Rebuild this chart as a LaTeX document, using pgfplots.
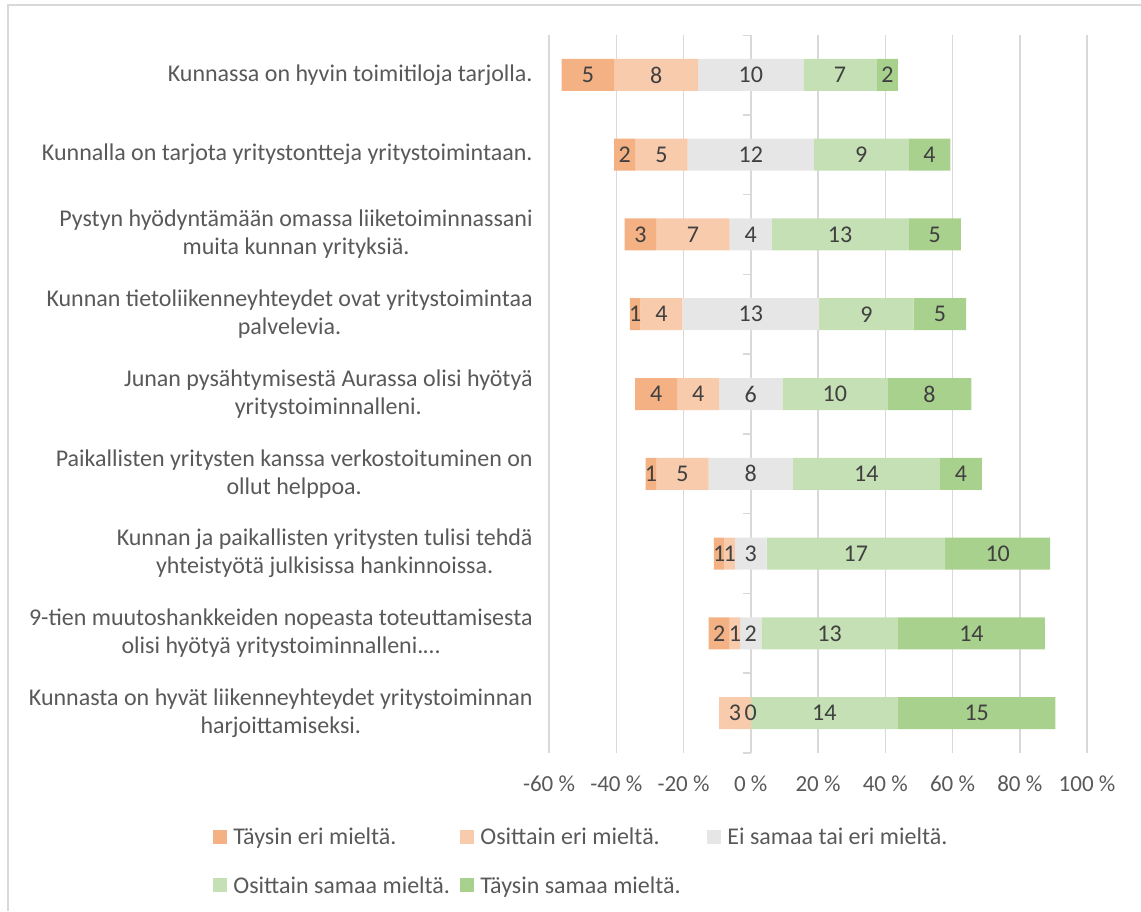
\documentclass[border=0pt]{standalone}
\usepackage{pgfplots}
\pgfplotsset{compat=1.18}
\usepackage{pgfplotstable}
\usepackage{fontspec}
\setmainfont{Carlito}
\definecolor{te}{HTML}{F4B183}
\definecolor{oe}{HTML}{F8CBAD}
\definecolor{nn}{HTML}{E7E6E6}
\definecolor{os}{HTML}{C5E0B4}
\definecolor{ts}{HTML}{A9D18E}
\definecolor{gridc}{HTML}{D9D9D9}
\definecolor{txt}{HTML}{595959}
\definecolor{lab}{HTML}{404040}

% percentages of 32 answers; off = invisible left offset measured from -60 %
\pgfplotstableread{
y off te oe n os ts
1 3.75 15.625 25 31.25 21.875 6.25
2 19.375 6.25 15.625 37.5 28.125 12.5
3 22.5 9.375 21.875 12.5 40.625 15.625
4 24.0625 3.125 12.5 40.625 28.125 15.625
5 25.625 12.5 12.5 18.75 31.25 25
6 28.75 3.125 15.625 25 43.75 12.5
7 49.0625 3.125 3.125 9.375 53.125 31.25
8 47.5 6.25 3.125 6.25 40.625 43.75
9 50.625 0 9.375 0 43.75 46.875
}\bars

% label positions (segment centres, in %) and counts
\pgfplotstableread{
x y l
-48.4375 1 5
-28.125 1 8
0 1 10
26.5625 1 7
40.625 1 2
-37.5 2 2
-26.5625 2 5
0 2 12
32.8125 2 9
53.125 2 4
-32.8125 3 3
-17.1875 3 7
0 3 4
26.5625 3 13
54.6875 3 5
-34.375 4 1
-26.5625 4 4
0 4 13
34.375 4 9
56.25 4 5
-28.125 5 4
-15.625 5 4
0 5 6
25 5 10
53.125 5 8
-29.6875 6 1
-20.3125 6 5
0 6 8
34.375 6 14
62.5 6 4
-9.375 7 1
-6.25 7 1
0 7 3
31.25 7 17
73.4375 7 10
-9.375 8 2
-4.6875 8 1
0 8 2
23.4375 8 13
65.625 8 14
-4.6875 9 3
0 9 0
21.875 9 14
67.1875 9 15
}\labels

\begin{document}
\begin{tikzpicture}
\useasboundingbox (0pt,0pt) rectangle (570.5pt,455.5pt);
\begin{axis}[
  at={(274.5pt,79pt)}, anchor=south west,
  scale only axis, width=269pt, height=359pt,
  xmin=0, xmax=160, ymin=0.5, ymax=9.5, y dir=reverse,
  xbar stacked, bar width=16pt,
  xtick={0,20,...,160},
  xticklabel={\pgfmathparse{\tick-60}\pgfmathprintnumber[assume math mode=true]{\pgfmathresult}~\%},
  xticklabel style={font=\fontsize{11.5}{13}\selectfont, text=txt, yshift=-8pt},
  xmajorgrids, grid style={gridc, line width=0.75pt},
  ytick={1,2,3,4,5,6,7,8,9},
  yticklabels={
    {Kunnassa on hyvin toimitiloja tarjolla.},
    {Kunnalla on tarjota yritystontteja yritystoimintaan.},
    {Pystyn hyödyntämään omassa liiketoiminnassani\\muita kunnan yrityksiä.},
    {Kunnan tietoliikenneyhteydet ovat yritystoimintaa\\palvelevia.},
    {Junan pysähtymisestä Aurassa olisi hyötyä\\yritystoiminnalleni.},
    {Paikallisten yritysten kanssa verkostoituminen on\\ollut helppoa.},
    {Kunnan ja paikallisten yritysten tulisi tehdä\\yhteistyötä julkisissa hankinnoissa.},
    {9-tien muutoshankkeiden nopeasta toteuttamisesta\\olisi hyötyä yritystoiminnalleni.\ldots},
    {Kunnasta on hyvät liikenneyhteydet yritystoiminnan\\harjoittamiseksi.}},
  yticklabel style={align=center, anchor=east, inner sep=0pt, xshift=-8pt,
    font=\fontsize{12}{14}\selectfont, text=txt},
  axis line style={draw=none}, major tick length=0pt, tick style={draw=none},
]
\addplot[fill=none, draw=none] table[x=off, y=y] {\bars};
\addplot[fill=te, draw=none] table[x=te, y=y] {\bars};
\addplot[fill=oe, draw=none] table[x=oe, y=y] {\bars};
\addplot[fill=nn, draw=none] table[x=n, y=y] {\bars};
\addplot[fill=os, draw=none] table[x=os, y=y] {\bars};
\addplot[fill=ts, draw=none] table[x=ts, y=y] {\bars};
\draw[gridc, line width=0.75pt] (axis cs:60,0.5) -- (axis cs:60,9.5);
\pgfplotsinvokeforeach{0.5,1.5,2.5,3.5,4.5,5.5,6.5,7.5,8.5,9.5}{\draw[gridc, line width=0.75pt] (axis cs:60,#1) -- ++(-4pt,0pt);}
\end{axis}
\begin{axis}[
  at={(274.5pt,79pt)}, anchor=south west,
  scale only axis, width=269pt, height=359pt,
  xmin=-60, xmax=100, ymin=0.5, ymax=9.5, y dir=reverse,
  hide axis,
  legend columns=3,
  legend cell align=left,
  legend style={at={(-0.6245,-0.1)}, anchor=north west, draw=none, fill=none,
    inner sep=0pt, font=\fontsize{12}{14}\selectfont, text=txt, row sep=13pt,
    nodes={inner sep=0pt},
    /tikz/every odd column/.append style={column sep=3pt},
    /tikz/every even column/.append style={column sep=0pt}},
  legend image code/.code={\path[#1,draw=none] (0pt,-3.5pt) rectangle (7pt,3.5pt);},
]
\addlegendimage{fill=te, draw=none}
\addlegendentry{\makebox[113.5pt][l]{\strut Täysin eri mieltä.}}
\addlegendimage{fill=oe, draw=none}
\addlegendentry{\makebox[113.5pt][l]{\strut Osittain eri mieltä.}}
\addlegendimage{fill=nn, draw=none}
\addlegendentry{\strut Ei samaa tai eri mieltä.}
\addlegendimage{fill=os, draw=none}
\addlegendentry{\makebox[113.5pt][l]{\strut Osittain samaa mieltä.}}
\addlegendimage{fill=ts, draw=none}
\addlegendentry{\makebox[113.5pt][l]{\strut Täysin samaa mieltä.}}
\addplot[forget plot, only marks, mark=text, text mark={},
  nodes near coords, point meta=explicit symbolic,
  nodes near coords style={anchor=center, inner sep=0pt, text=lab,
    font=\fontsize{12}{14}\selectfont}]
  table[x=x, y=y, meta=l] {\labels};
\end{axis}
\draw[gridc, line width=1pt] (4pt,0pt) -- (4pt,453pt) -- (570.5pt,453pt);
\end{tikzpicture}
\end{document}
